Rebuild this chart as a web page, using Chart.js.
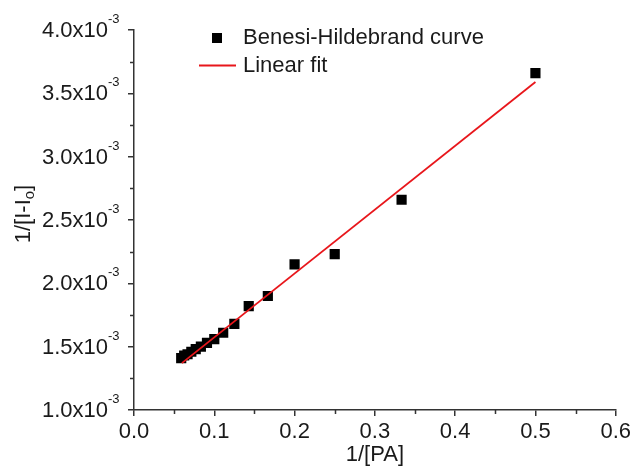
<!DOCTYPE html>
<html>
<head>
<meta charset="utf-8">
<script src="https://cdn.jsdelivr.net/npm/chart.js@4.4.0/dist/chart.umd.min.js"></script>
<style>
  html, body { margin: 0; padding: 0; background: #fff; }
  canvas { display: block; }
</style>
</head>
<body>
<canvas id="bhChart" width="634" height="470"></canvas>
<script>
// values
const invPA = [0.5, 0.3333, 0.25, 0.2, 0.1667, 0.1429, 0.125, 0.1111, 0.1, 0.0909, 0.0833, 0.0769, 0.0714, 0.0667, 0.0625, 0.0588];
const invI  = [3.66e-3, 2.66e-3, 2.23e-3, 2.15e-3, 1.90e-3, 1.82e-3, 1.68e-3, 1.61e-3, 1.56e-3, 1.53e-3, 1.50e-3, 1.48e-3, 1.46e-3, 1.44e-3, 1.43e-3, 1.41e-3];
const fitX = [0.0596, 0.5];
const fitY = [1.37e-3, 3.59e-3];

const legendLabels = ['Benesi-Hildebrand curve', 'Linear fit'];
const xTickLabels = ['0.0', '0.1', '0.2', '0.3', '0.4', '0.5', '0.6'];
const yTickLabels = ['1.0', '1.5', '2.0', '2.5', '3.0', '3.5', '4.0'];
const yTickExp = '-3';
const xTitle = '1/[PA]';
const yTitleParts = ['1/[I-I', 'o', ']'];

const FONT = '"Liberation Sans", Arial, sans-serif';
const AXIS = '#333';
const TEXT = '#1a1a1a';
const RED = '#e8161b';

// major ticks come from the grid, minor ones are drawn shorter here
const minorColor = (c) => (c.index % 2 ? 'rgba(0,0,0,0)' : AXIS);

// y tick labels with superscript exponent, minor ticks, y title with subscript
const axisExtras = {
  id: 'axisExtras',
  afterDraw(chart) {
    const { ctx, scales: { x, y } } = chart;
    ctx.save();

    // minor tick marks
    ctx.strokeStyle = AXIS;
    ctx.lineWidth = 1.5;
    ctx.beginPath();
    x.ticks.forEach((t, i) => {
      if (i % 2 === 0) return;
      const px = Math.round(x.getPixelForValue(t.value)) + 0.5;
      ctx.moveTo(px, x.top);
      ctx.lineTo(px, x.top + 4);
    });
    y.ticks.forEach((t, i) => {
      if (i % 2 === 0) return;
      const py = Math.round(y.getPixelForValue(t.value)) + 0.5;
      ctx.moveTo(y.right, py);
      ctx.lineTo(y.right - 4, py);
    });
    ctx.stroke();

    ctx.fillStyle = TEXT;
    y.ticks.forEach((t, i) => {
      if (i % 2) return;
      const py = y.getPixelForValue(t.value);
      ctx.font = '22px ' + FONT;
      ctx.textAlign = 'right';
      ctx.textBaseline = 'alphabetic';
      ctx.fillText(yTickLabels[i / 2] + 'x10', 108, py + 7);
      ctx.font = '13px ' + FONT;
      ctx.textAlign = 'left';
      ctx.fillText(yTickExp, 108, py - 7);
    });

    // rotated y title
    ctx.translate(22, 214);
    ctx.rotate(-Math.PI / 2);
    ctx.textAlign = 'left';
    ctx.textBaseline = 'alphabetic';
    const f1 = '22px ' + FONT, f2 = '15px ' + FONT;
    ctx.font = f1; const w1 = ctx.measureText(yTitleParts[0]).width;
    ctx.font = f2; const w2 = ctx.measureText(yTitleParts[1]).width;
    ctx.font = f1; const w3 = ctx.measureText(yTitleParts[2]).width;
    const x0 = -(w1 + w2 + w3) / 2;
    ctx.font = f1; ctx.fillText(yTitleParts[0], x0, 8);
    ctx.font = f2; ctx.fillText(yTitleParts[1], x0 + w1, 12);
    ctx.font = f1; ctx.fillText(yTitleParts[2], x0 + w1 + w2, 8);
    ctx.restore();
  }
};

// legend drawn inside the plot area
const innerLegend = {
  id: 'innerLegend',
  afterDraw(chart) {
    const { ctx } = chart;
    ctx.save();
    ctx.font = '22px ' + FONT;
    ctx.textAlign = 'left';
    ctx.textBaseline = 'alphabetic';
    ctx.fillStyle = '#000';
    ctx.fillRect(212, 33, 10, 10);
    ctx.fillStyle = TEXT;
    ctx.fillText(legendLabels[0], 243, 44);
    ctx.strokeStyle = RED;
    ctx.lineWidth = 1.8;
    ctx.beginPath();
    ctx.moveTo(199, 65.5);
    ctx.lineTo(236, 65.5);
    ctx.stroke();
    ctx.fillText(legendLabels[1], 243, 72);
    ctx.restore();
  }
};

const scatterData = invPA.map((x, i) => ({ x: x, y: invI[i] }));
const fitData = fitX.map((x, i) => ({ x: x, y: fitY[i] }));

new Chart(document.getElementById('bhChart'), {
  type: 'scatter',
  data: {
    datasets: [
      {
        label: legendLabels[1],
        type: 'line',
        data: fitData,
        borderColor: RED,
        borderWidth: 1.8,
        pointRadius: 0,
        fill: false,
        order: 0
      },
      {
        label: legendLabels[0],
        data: scatterData,
        pointStyle: 'rect',
        pointRadius: 7.2,
        backgroundColor: '#000',
        borderWidth: 0,
        order: 1
      }
    ]
  },
  options: {
    responsive: false,
    animation: false,
    layout: { padding: { left: 0, right: 17, top: 30, bottom: 0 } },
    plugins: {
      legend: { display: false },
      tooltip: { enabled: false }
    },
    scales: {
      x: {
        type: 'linear',
        min: 0,
        max: 0.6,
        afterFit: (s) => { s.height = 60; },
        ticks: {
          stepSize: 0.05,
          autoSkip: false,
          maxRotation: 0,
          padding: 3,
          color: TEXT,
          font: { family: FONT, size: 22 },
          callback: (v, i) => (i % 2 ? '' : xTickLabels[i / 2])
        },
        grid: { drawOnChartArea: false, drawTicks: true, tickLength: 6, tickColor: minorColor, lineWidth: 1.5 },
        border: { display: true, color: AXIS, width: 1.5 },
        title: {
          display: true,
          text: xTitle,
          color: TEXT,
          font: { family: FONT, size: 22 },
          padding: { top: 0, bottom: 2 }
        }
      },
      y: {
        type: 'linear',
        min: 1.0e-3,
        max: 4.0e-3,
        afterFit: (s) => { s.width = 134; },
        ticks: {
          stepSize: 0.25e-3,
          autoSkip: false,
          callback: () => ''
        },
        grid: { drawOnChartArea: false, drawTicks: true, tickLength: 6, tickColor: minorColor, lineWidth: 1.5 },
        border: { display: true, color: AXIS, width: 1.5 }
      }
    }
  },
  plugins: [axisExtras, innerLegend]
});
</script>
</body>
</html>
